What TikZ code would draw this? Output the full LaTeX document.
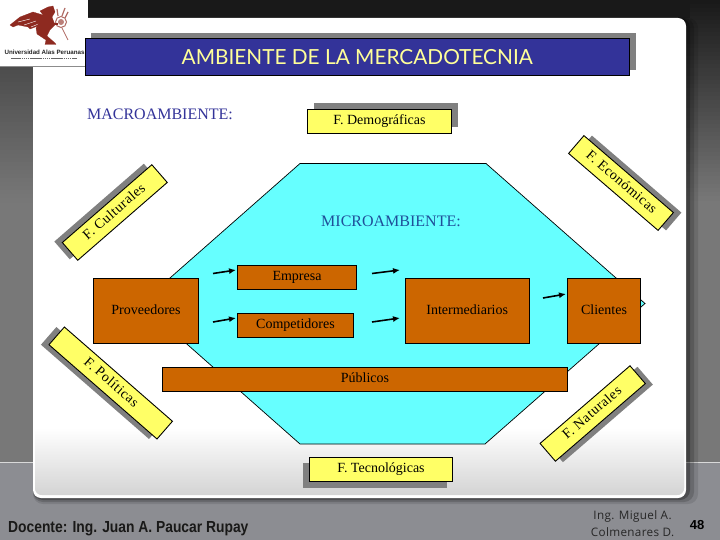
\documentclass[tikz,border=0pt]{standalone}
\usepackage{fontspec}
\setmainfont{Liberation Serif}
\newfontfamily\titlefont{Lato}
\newfontfamily\boldsans{Liberation Sans}
\newfontfamily\signfont[LetterSpace=3]{Open Sans}
\newfontfamily\rotfont[LetterSpace=4]{Liberation Serif}
\usetikzlibrary{arrows.meta}
\definecolor{navy}{HTML}{333399}
\definecolor{ylw}{HTML}{FFFF66}
\definecolor{ttxt}{HTML}{FFFF99}
\definecolor{brn}{HTML}{CC6600}
\definecolor{cyn}{HTML}{66FFFF}
\definecolor{shd}{HTML}{808080}
\definecolor{botg}{HTML}{8C8D92}
\definecolor{logored}{HTML}{8E2A20}
\definecolor{microtxt}{HTML}{1F4F99}
\tikzset{
 yellowbox/.style={draw=black,line width=0.9pt,fill=ylw,inner sep=0pt,font=\fontsize{14}{16}\selectfont,text=black,text height=9.5pt,text depth=3pt},
 brownbox/.style={draw=black,line width=0.9pt,fill=brn,inner sep=0pt,font=\fontsize{14}{16}\selectfont,text=black,text height=9.5pt,text depth=3pt},
 shadowbox/.style={fill=shd,inner sep=0pt},
 rotbox/.style={yellowbox,minimum width=#1,minimum height=23.5pt,font=\rotfont\fontsize{14}{16}\selectfont},
 rotshadow/.style={shadowbox,minimum width=#1,minimum height=23.5pt},
 conn/.style={line width=1.6pt,black,-{Latex[length=7pt,width=6pt]}},
 biglabel/.style={font=\fontsize{16}{18}\selectfont,inner sep=0pt},
 eagle/.style={fill=logored,draw=logored,line width=0.2pt},
 docfont/.style={inner sep=0pt,anchor=base west,font=\boldsans\bfseries\fontsize{16}{18}\selectfont}
}
\begin{document}
\begin{tikzpicture}[x=1pt,y=-1pt]
\useasboundingbox (0,0) rectangle (720,540);
% background
\fill[botg] (0,0) rectangle (720,540);
\fill[black!53] (0,0) rectangle (720,462);
\foreach \y in {0,4,...,196}{
  \pgfmathsetmacro\m{90-(\y/200)*37}
  \fill[black!\m] (340,\y) rectangle (720,\y+5);
}
\foreach \y in {66,70,...,198}{
  \pgfmathsetmacro\m{70-((\y-66)/134)*17}
  \fill[black!\m] (0,\y) rectangle (340,\y+5);
}
\fill[white!85!black] (0,461.5) rectangle (720,462.5);
% top dark band
\fill[black!90] (88,0) rectangle (690,18);
% slide shadow
\foreach \e/\o in {12/0.10,8/0.16,4/0.26}{
  \fill[black,opacity=\o,rounded corners=10pt] (33,18) rectangle (686+\e,498+\e/2);
}
% slide
\fill[white,rounded corners=8pt] (33,18) rectangle (686,498);
\begin{scope}
\clip[rounded corners=7pt] (35,18) rectangle (684,495);
\foreach \y in {428,...,494}{
  \pgfmathsetmacro\m{((\y-428)/67)*17}
  \fill[black!\m] (33,\y) rectangle (686,\y+1.5);
}
\end{scope}
% logo
\fill[white] (0,0) rectangle (88,66);
\fill[black!45] (0,66) rectangle (85,66.8);
\fill[eagle] (10,25)--(20,17)--(33,12)--(43,15)--(47,20)--(45,27)--(38,26)--(30,29)--(28,27)--(18,25)--(13,27)--cycle;
\draw[white,line width=0.4pt] (18,22)--(30,19) (24,25)--(36,21) (31,27)--(41,23);
\fill[eagle] (40,11)--(48,7)--(53,6)--(55,12)--(52,17)--(47,20)--cycle;
\fill[eagle] (43,15)--(52,17)--(55,25)--(50,30)--(47,36)--(55,43)--(56,44.5)--(45,44.5)--(46,40)--(37,34)--(36,28)--cycle;
\draw[logored!70!white,line width=1pt] (61,22) circle (5.5);
\fill[logored!60!white] (61,22) circle (3);
\draw[logored!70!white,line width=1.2pt] (58,16)--(57,9) (62,16)--(65,8) (65,18)--(68,12);
\draw[logored!70!white,line width=0.7pt] (62,28)--(68,40);
\draw[logored,line width=1.2pt] (52,24)--(58,24);
\node[inner sep=0pt,font=\boldsans\bfseries\fontsize{6.2}{7}\selectfont,text=black!85] (logotext) at (44.5,52.5) {Universidad Alas Peruanas};
\draw[black!60,line width=1pt,dash pattern=on 1.6pt off 0.5pt] (11,58.8)--(77,58.8);
% title
\fill[shd] (91,33) rectangle (636,70);
\node[draw=black,line width=0.9pt,fill=navy,text=ttxt,minimum width=544.5pt,minimum height=36.5pt,inner sep=0pt,font=\titlefont\fontsize{20.8}{22}\selectfont] (title) at (357.2,57.2) {AMBIENTE DE LA MERCADOTECNIA};
% labels
\node[biglabel,text=navy,anchor=base] (macro) at (160,120) {MACROAMBIENTE:};
% hexagon
\fill[cyn,draw=black,line width=0.7pt] (300,163.5)--(486,163.5)--(645,303.5)--(485,444)--(300,444)--(141,303.5)--cycle;
\node[biglabel,text=microtxt,anchor=base] (micro) at (391,226) {MICROAMBIENTE:};
% demograficas / tecnologicas
\fill[shd] (313.5,103.5) rectangle (457.5,127.5);
\node[yellowbox,minimum width=144pt,minimum height=24pt] (demo) at (379.5,121.5) {F. Demográficas};
\fill[shd] (303,463) rectangle (447,487.5);
\node[yellowbox,minimum width=143.5pt,minimum height=24.5pt] (tecno) at (381,469.3) {F. Tecnológicas};
% rotated
\node[rotshadow=118.6pt,rotate=41] at (106.8,211.5) {};
\node[rotbox=118.6pt,rotate=41] (cult) at (114.8,212.5) {F. Culturales};
\node[rotshadow=118pt,rotate=-40.7] at (629,183) {};
\node[rotbox=118pt,rotate=-40.7] (econ) at (621,183) {F. Económicas};
\node[rotshadow=143.4pt,rotate=-41.1] at (102.7,383) {};
\node[rotbox=143.4pt,rotate=-41.1] (poli) at (110.7,383) {F. Políticas};
\node[rotshadow=118.8pt,rotate=40.8] at (600.2,414.5) {};
\node[rotbox=118.8pt,rotate=40.8] (natu) at (592.7,413.5) {F. Naturales};
% brown boxes
\node[brownbox,minimum width=119pt,minimum height=24pt] (empresa) at (297,277) {Empresa};
\node[brownbox,minimum width=116pt,minimum height=24.5pt] (compet) at (295.5,325.3) {Competidores};
\node[brownbox,minimum width=105pt,minimum height=65pt] (prov) at (146,311) {Proveedores};
\node[brownbox,minimum width=124.5pt,minimum height=65pt] (inter) at (467.2,311) {Intermediarios};
\node[brownbox,minimum width=73pt,minimum height=65pt] (client) at (604,311) {Clientes};
\node[brownbox,minimum width=405pt,minimum height=24pt] (public) at (365,379.5) {Públicos};
% connectors
\coordinate (a1) at (213,273.5);
\coordinate (a1e) at (236,270);
\coordinate (a2) at (213,322);
\coordinate (a2e) at (236,318);
\coordinate (a3) at (372,273.5);
\coordinate (a3e) at (400,270);
\coordinate (a4) at (372,322);
\coordinate (a4e) at (400,318);
\coordinate (a5) at (543,298);
\coordinate (a5e) at (566,294);
\draw[conn] (a1)--(a1e);
\draw[conn] (a2)--(a2e);
\draw[conn] (a3)--(a3e);
\draw[conn] (a4)--(a4e);
\draw[conn] (a5)--(a5e);
% footer
\node[docfont,text=black!45] at (9,532.8) {\scalebox{0.865}[1]{Docente: Ing. Juan A. Paucar Rupay}};
\node[docfont,text=black!90] (docente) at (8,532) {\scalebox{0.865}[1]{Docente: Ing. Juan A. Paucar Rupay}};
\node[inner sep=0pt,text=black!85,font=\signfont\fontsize{11.7}{14}\selectfont,anchor=base] (ing1) at (632.5,519) {Ing. Miguel A.};
\node[inner sep=0pt,text=black!85,font=\signfont\fontsize{11.7}{14}\selectfont,anchor=base] (ing2) at (632.5,536) {Colmenares D.};
\node[inner sep=0pt,text=black,font=\boldsans\bfseries\fontsize{13}{15}\selectfont,anchor=base] (page) at (697,529) {48};
\end{tikzpicture}
\end{document}
